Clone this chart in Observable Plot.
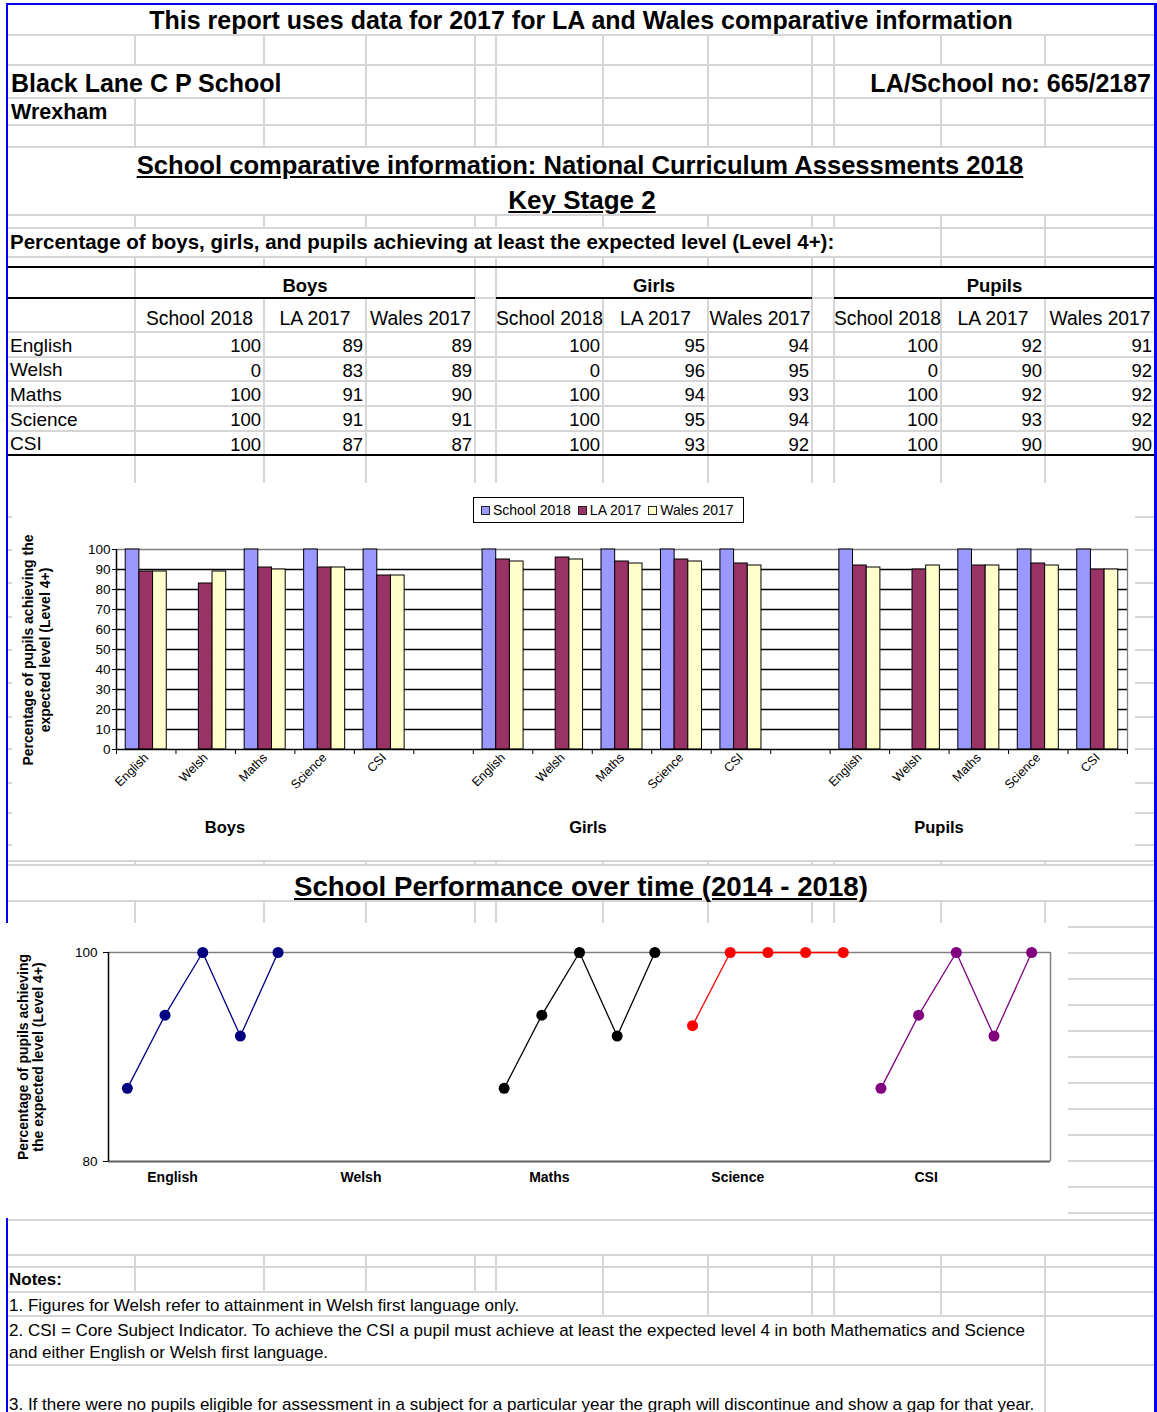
<!DOCTYPE html>
<html><head><meta charset="utf-8">
<script src="https://cdn.jsdelivr.net/npm/d3@7"></script>
<script src="https://cdn.jsdelivr.net/npm/@observablehq/plot@0.6"></script>
<style>
body{margin:0;background:#fff;}
#page{position:relative;width:1157px;height:1412px;overflow:hidden;background:#fff;font-family:"Liberation Sans",Arial,sans-serif;color:#000;}
.t{position:absolute;white-space:nowrap;}
.legend{position:absolute;display:flex;align-items:center;border:1px solid #000;background:#fff;font-size:14px;box-sizing:border-box;padding-left:7px;}
.legend .sw{display:inline-block;width:7px;height:7px;border:1px solid #222;margin-right:3px;}
.legend .it{display:flex;align-items:center;margin-right:7px;}
</style></head><body><div id="page"></div>
<script>
// ---------- data ----------
const subjects = ["English","Welsh","Maths","Science","CSI"];
const groups = ["Boys","Girls","Pupils"];
const seriesNames = ["School 2018","LA 2017","Wales 2017"];
const boysSchool = [100,0,100,100,100];
const boysLA = [89,83,91,91,87];
const boysWales = [89,89,90,91,87];
const girlsSchool = [100,0,100,100,100];
const girlsLA = [95,96,94,95,93];
const girlsWales = [94,95,93,94,92];
const pupilsSchool = [100,0,100,100,100];
const pupilsLA = [92,90,92,93,90];
const pupilsWales = [91,92,92,92,90];
const yTicksBar = [0,10,20,30,40,50,60,70,80,90,100];
const years = [2014,2015,2016,2017,2018];
const trendEnglish = [87,94,100,92,100];
const trendWelsh = [null,null,null,null,null];
const trendMaths = [87,94,100,92,100];
const trendScience = [93,100,100,100,100];
const trendCSI = [87,94,100,92,100];
const yTicksTrend = [80,100];
const barColors = ["#9999ff","#993366","#ffffcc"];
const trendColors = ["#000080","#008000","#000000","#ff0000","#800080"];

// ---------- helpers ----------
const page = document.getElementById("page");
function box(x,y,w,h,bg,z){const d=document.createElement("div");Object.assign(d.style,{position:"absolute",left:x+"px",top:y+"px",width:w+"px",height:h+"px",background:bg,zIndex:z||1});page.appendChild(d);return d;}
const GRID="#d6d6d6", BLUE="#0000ee";
function hl(y,x1,x2,c=GRID,w=2,z=1){return box(x1,y-w/2,x2-x1,w,c,z);}
function vl(x,y1,y2,c=GRID,w=2,z=1){return box(x-w/2,y1,w,y2-y1,c,z);}
function txt(s,x,y,o={}){
  const size=o.size||18;const d=document.createElement("div");d.className="t";d.textContent=s;
  const lh=Math.round(size*1.25);
  Object.assign(d.style,{fontSize:size+"px",fontWeight:o.bold?"bold":"normal",lineHeight:lh+"px",top:(y-lh/2)+"px",zIndex:o.z||5});
  if(o.underline)d.style.textDecoration="underline";
  if(!o.align||o.align==="left")d.style.left=x+"px";
  else if(o.align==="right")d.style.right=(1157-x)+"px";
  else{d.style.left=(x-1000)+"px";d.style.width="2000px";d.style.textAlign="center";}
  page.appendChild(d);return d;
}
function vtitle(lines,cx,cy,size,lh){
  const d=document.createElement("div");
  d.style.cssText=`position:absolute;left:${cx-200}px;top:${cy-lh*lines.length/2}px;width:400px;height:${lh*lines.length}px;text-align:center;font-weight:bold;font-size:${size}px;line-height:${lh}px;transform:rotate(-90deg);transform-origin:50% 50%;z-index:6;white-space:nowrap;`;
  d.innerHTML=lines.join("<br>");page.appendChild(d);
}

// ---------- spreadsheet grid ----------
const ALL=[135,264,366,475,496,603,708,812,834,941,1045];
const bands=[[35,65,ALL],[65,98,[366,475,496,603,708,812,834]],[98,125,ALL],[125,147,ALL],[215,228,ALL],[228,257,[941,1045]],[257,267,ALL],[267,298,[135,475,496,812,834]],[298,455,ALL],[455,483,ALL],[861,865,ALL],[901,923,ALL],[1255,1267,ALL],[1267,1292,ALL],[1292,1316,[603,708,812,834,941,1045]],[1316,1365,[1045]],[1365,1412,[1045]]];
bands.forEach(([a,b,cs])=>cs.forEach(x=>vl(x,a,b)));
const rowsY=[35,65,98,125,147,215,228,257,298,332,357,381,406,431,517,550,583,617,650,683,717,749,783,813,845,861,865,901,927,953,979,1005,1031,1057,1083,1109,1135,1161,1187,1213,1220,1255,1267,1292,1316,1365];
rowsY.forEach(y=>hl(y,8,1155));
hl(267,7,1155,"#000",2.5,2);
hl(455,7,1155,"#000",2.5,2);
[[7,475],[496,812],[834,1155]].forEach(([a,b])=>hl(298,a,b,"#000",1.6,2));
// blue border
hl(4,6,1157,BLUE,2,2);
vl(7,3,1412,BLUE,2,2);
vl(1155.5,3,1412,BLUE,3,2);

// ---------- header texts ----------
txt("This report uses data for 2017 for LA and Wales comparative information",581,20,{size:25,bold:true,align:"center"});
txt("Black Lane C P School",11,83,{size:25,bold:true});
txt("LA/School no: 665/2187",1151,83,{size:25,bold:true,align:"right"});
txt("Wrexham",11,112,{size:21.5,bold:true});
txt("School comparative information: National Curriculum Assessments 2018",580,165,{size:25.6,bold:true,underline:true,align:"center"});
txt("Key Stage 2",582,200,{size:26,bold:true,underline:true,align:"center"});
txt("Percentage of boys, girls, and pupils achieving at least the expected level (Level 4+):",10,242,{size:20.5,bold:true});

// ---------- table ----------
const groupSpans=[[135,475],[496,812],[834,1155]];
const colSpans=[[135,264],[264,366],[366,475],[496,603],[603,708],[708,812],[834,941],[941,1045],[1045,1155]];
const tableData=[[boysSchool,boysLA,boysWales],[girlsSchool,girlsLA,girlsWales],[pupilsSchool,pupilsLA,pupilsWales]];
const rowLines=[332,357,381,406,431,455];
groups.forEach((g,gi)=>txt(g,(groupSpans[gi][0]+groupSpans[gi][1])/2,285,{size:18.5,bold:true,align:"center"}));
groups.forEach((g,gi)=>seriesNames.forEach((s,j)=>{const c=colSpans[gi*3+j];txt(s,(c[0]+c[1])/2,319,{size:19.3,align:"center"});}));
subjects.forEach((s,si)=>{
  const cy=(rowLines[si]+rowLines[si+1])/2+1;
  txt(s,10,cy,{size:19});
  groups.forEach((g,gi)=>seriesNames.forEach((sn,j)=>{const c=colSpans[gi*3+j];txt(String(tableData[gi][j][si]),c[1]-3,cy,{size:18.5,align:"right"});}));
});

// ---------- bar chart ----------
const barBox=box(12,483,1123,375,"#fff",3);
const nSub=subjects.length;
const nSlots=groups.length*(nSub+1)-1;
const barData=[];
groups.forEach((g,gi)=>tableData[gi].forEach((arr,j)=>arr.forEach((v,si)=>barData.push({group:g,subject:subjects[si],series:seriesNames[j],j,slot:gi*(nSub+1)+si,value:v}))));
const slotLabel=i=>(i%(nSub+1))<nSub?subjects[i%(nSub+1)]:"";
const bar=Plot.plot({
  width:1123,height:375,marginLeft:104,marginRight:8,marginTop:66,marginBottom:109,
  style:{fontFamily:'"Liberation Sans", Arial, sans-serif',fontSize:"13px",color:"#000",background:"transparent"},
  x:{domain:[0,nSlots]},
  y:{domain:[0,100]},
  color:{domain:seriesNames,range:barColors},
  marks:[
    Plot.ruleY(yTicksBar.filter(v=>v>0&&v<100),{stroke:"#000",strokeWidth:1.3}),
    Plot.ruleY([100],{stroke:"#808080",strokeWidth:1.3}),
    Plot.ruleX([nSlots],{stroke:"#808080",strokeWidth:1.3}),
    Plot.rectY(barData,{x1:d=>d.slot+0.155+d.j*0.23,x2:d=>d.slot+0.155+(d.j+1)*0.23,y1:0,y2:"value",fill:"series",stroke:"#000",strokeWidth:1}),
    Plot.ruleY([0],{stroke:"#000",strokeWidth:1.5}),
    Plot.ruleX([0],{stroke:"#000",strokeWidth:1.5}),
    Plot.axisY(yTicksBar,{tickSize:4,tickPadding:2,fontSize:13.5,label:null}),
    Plot.axisX(d3.range(nSlots+1),{tickSize:5,tickFormat:()=>"",label:null}),
    Plot.axisX(d3.range(nSlots).map(i=>i+0.5),{tickSize:0,tickPadding:6,tickRotate:-45,fontSize:12.5,tickFormat:v=>slotLabel(Math.floor(v)),label:null})
  ]
});
barBox.appendChild(bar);
// legend
const lg=document.createElement("div");lg.className="legend";
Object.assign(lg.style,{left:"473px",top:"497px",width:"271px",height:"26px",zIndex:6});
seriesNames.forEach((s,j)=>{const it=document.createElement("span");it.className="it";it.innerHTML=`<span class="sw" style="background:${barColors[j]}"></span>${s}`;lg.appendChild(it);});
page.appendChild(lg);
vtitle(["Percentage of pupils achieving the","expected level (Level 4+)"],36.5,650,14,17);
const groupLabelX=[225,588,939];
groups.forEach((g,gi)=>txt(g,groupLabelX[gi],827,{size:16.5,bold:true,align:"center",z:6}));

// ---------- performance over time ----------
txt("School Performance over time (2014 - 2018)",581,886,{size:27.7,bold:true,underline:true,align:"center"});
const lineBox=box(5,923,1063,295,"#fff",3);
const trendSeries=[trendEnglish,trendWelsh,trendMaths,trendScience,trendCSI];
const nY=years.length;
const lineData=[];
subjects.forEach((s,si)=>years.forEach((yr,yi)=>lineData.push({subject:s,year:yr,i:si*nY+yi,value:trendSeries[si][yi]})));
const nPts=subjects.length*nY;
const line=Plot.plot({
  width:1063,height:295,marginLeft:103,marginRight:18,marginTop:29,marginBottom:57,
  style:{fontFamily:'"Liberation Sans", Arial, sans-serif',fontSize:"13px",color:"#000",background:"transparent"},
  x:{domain:[-0.5,nPts-0.5]},
  y:{domain:[80,100]},
  color:{domain:subjects,range:trendColors},
  marks:[
    Plot.ruleY([100],{stroke:"#808080",strokeWidth:1.5}),
    Plot.ruleX([nPts-0.5],{stroke:"#808080",strokeWidth:1.5}),
    Plot.ruleY([80],{stroke:"#606060",strokeWidth:2}),
    Plot.ruleX([-0.5],{stroke:"#000",strokeWidth:1.5}),
    Plot.line(lineData,{x:"i",y:"value",z:"subject",stroke:"subject",strokeWidth:1.3}),
    Plot.dot(lineData.filter(d=>d.value!=null),{x:"i",y:"value",fill:"subject",r:5.5}),
    Plot.axisY(yTicksTrend,{tickSize:5,tickPadding:6,fontSize:13.5,label:null}),
    Plot.axisX(subjects.map((s,si)=>si*nY+1.2),{tickSize:0,tickPadding:11,fontSize:14,fontWeight:"bold",tickFormat:v=>subjects[Math.round((v-1.2)/nY)],label:null})
  ]
});
d3.select(line).selectAll('g[aria-label="x-axis tick label"] text').attr("font-weight","bold");
lineBox.appendChild(line);
vtitle(["Percentage of pupils achieving","the expected level (Level 4+)"],31,1057,14,15);

// ---------- notes ----------
txt("Notes:",9,1279,{size:17,bold:true});
txt("1. Figures for Welsh refer to attainment in Welsh first language only.",9,1305,{size:17});
txt("2. CSI = Core Subject Indicator. To achieve the CSI a pupil must achieve at least the expected level 4 in both Mathematics and Science",9,1330,{size:17});
txt("and either English or Welsh first language.",9,1352,{size:17});
txt("3. If there were no pupils eligible for assessment in a subject for a particular year the graph will discontinue and show a gap for that year.",9,1404,{size:17});
</script></body></html>
